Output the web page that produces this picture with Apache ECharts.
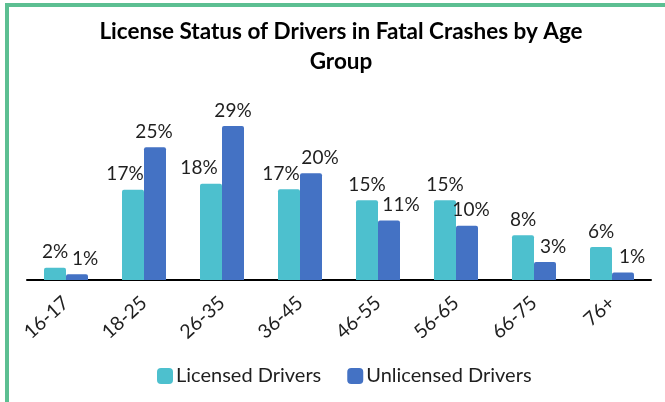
<!DOCTYPE html>
<html>
<head>
<meta charset="utf-8">
<script src="https://cdn.jsdelivr.net/npm/echarts@6/dist/echarts.min.js"></script>
<style>
  html, body { margin: 0; padding: 0; background: #fff; }
  #frame { position: absolute; left: 5px; top: 3px; width: 700px; height: 500px;
           border-top: 4px solid #5CBF92; border-left: 4px solid #5CBF92; box-sizing: border-box; }
  #chart { position: absolute; left: 0; top: 0; width: 665px; height: 402px; }
</style>
</head>
<body>
<div id="frame"></div>
<div id="chart"></div>
<script>
const categories = ['16-17', '18-25', '26-35', '36-45', '46-55', '56-65', '66-75', '76+'];
const licensed = [2.3, 17, 18.1, 17.1, 15, 15, 8.4, 6.2];
const unlicensed = [1.1, 25, 29, 20.1, 11.2, 10.2, 3.4, 1.4];
const seriesNames = ['Licensed Drivers', 'Unlicensed Drivers'];
// horizontal label nudges (style only)
const licensedLabelDx = [0, -8, -12, -8, 0, 0, 0, 0];
const unlicensedLabelDx = [8, -1, 0, 9, 12, 4, 8, 9];

const FONT = 'Lato';
const labelStyle = { show: true, position: 'top', distance: 6, color: '#1f1f1f',
  fontFamily: FONT, fontSize: 19, formatter: p => Math.round(p.value) + '%' };

function build(values, dxs) {
  return values.map((v, i) => ({ value: v, label: { offset: [dxs[i], 0] } }));
}

const chart = echarts.init(document.getElementById('chart'), null, { renderer: 'canvas' });
chart.setOption({
  backgroundColor: 'transparent',
  animation: false,
  title: {
    text: 'License Status of Drivers in Fatal Crashes by Age\nGroup',
    left: 336, top: 12, textAlign: 'center',
    textStyle: { fontFamily: FONT, fontWeight: 'bold', fontSize: 22.5, lineHeight: 30, color: '#000' }
  },
  legend: {
    data: seriesNames, bottom: 11, left: 152,
    itemWidth: 16, itemHeight: 16, itemGap: 26,
    icon: 'roundRect',
    textStyle: { fontFamily: FONT, fontSize: 20, color: '#1f1f1f', padding: [0, 0, 0, -2] }
  },
  grid: { left: 27, right: 14, top: 94, bottom: 122, containLabel: false },
  xAxis: {
    type: 'category', data: categories,
    axisLine: { lineStyle: { color: '#000', width: 2 } },
    axisTick: { show: false },
    axisLabel: { rotate: 42, margin: 20, fontFamily: FONT, fontSize: 19.5, color: '#1f1f1f', interval: 0 }
  },
  yAxis: {
    type: 'value', min: 0, max: 35, show: false, splitLine: { show: false }
  },
  series: [
    { name: seriesNames[0], type: 'bar', data: build(licensed, licensedLabelDx), barWidth: 22, barGap: '0%',
      itemStyle: { color: '#4DC0CE', borderRadius: [2, 2, 0, 0] }, label: labelStyle },
    { name: seriesNames[1], type: 'bar', data: build(unlicensed, unlicensedLabelDx), barWidth: 22,
      itemStyle: { color: '#4472C4', borderRadius: [2, 2, 0, 0] }, label: labelStyle }
  ]
});
</script>
</body>
</html>
